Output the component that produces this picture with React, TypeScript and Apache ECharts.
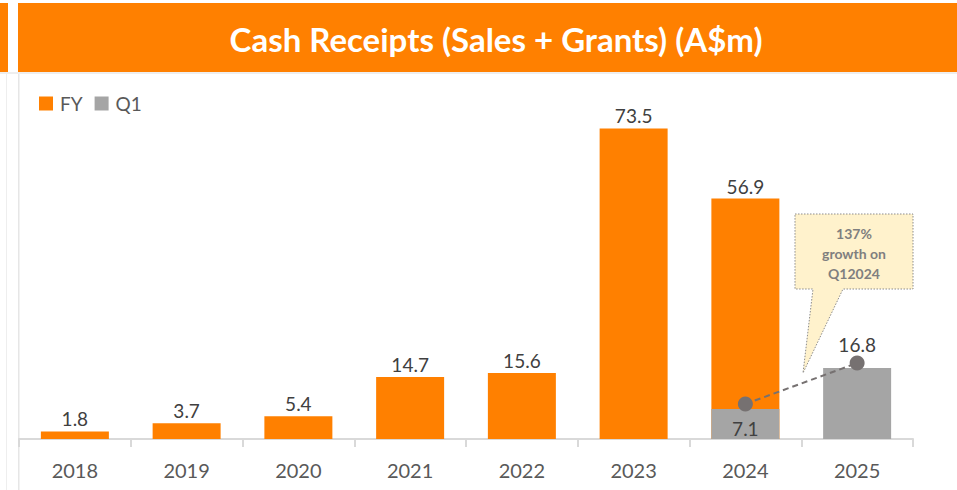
import React, { useEffect, useRef } from "react";
import * as echarts from "echarts";

const categories = ["2018", "2019", "2020", "2021", "2022", "2023", "2024", "2025"];
const fyValues: (number | null)[] = [1.8, 3.7, 5.4, 14.7, 15.6, 73.5, 56.9, null];
const q1Values: (number | null)[] = [null, null, null, null, null, null, 7.1, 16.8];
const titleText = "Cash Receipts (Sales + Grants) (A$m)";
const calloutLines = ["137%", "growth on", "Q12024"];

const ORANGE = "#FF8000";
const GREY = "#A5A5A5";
const TEXT = "#404040";
const FONT = "Lato, 'Open Sans', sans-serif";

export default function App() {
  const ref = useRef<HTMLDivElement>(null);
  useEffect(() => {
    if (!ref.current) return;
    const chart = echarts.init(ref.current, null, { renderer: "svg" });
    chart.setOption({
      animation: false,
      textStyle: { fontFamily: FONT },
      legend: {
        left: 34,
        top: 89,
        itemWidth: 14,
        itemHeight: 14,
        itemGap: 12,
        icon: "rect",
        data: ["FY", "Q1"],
        textStyle: { fontSize: 19, color: "#595959", fontFamily: FONT, padding: [0, 0, 0, 2] },
      },
      grid: [
        { left: 19, right: 44, top: 101, bottom: 51 },
        { left: 19, right: 44, top: 96, bottom: 56 },
      ],
      xAxis: [
        {
          type: "category",
          data: categories,
          gridIndex: 0,
          axisLine: { lineStyle: { color: "#D9D9D9", width: 2 } },
          axisTick: { show: true, length: 8, lineStyle: { color: "#D9D9D9", width: 2 } },
          axisLabel: { fontSize: 20, color: "#595959", margin: 21, fontFamily: FONT },
        },
        { type: "category", data: categories, gridIndex: 1, show: false },
      ],
      yAxis: [
        { type: "value", min: 0, max: 80, show: false, gridIndex: 0, splitLine: { show: false } },
        { type: "value", min: 0, max: 80, show: false, gridIndex: 1, splitLine: { show: false } },
      ],
      series: [
        {
          name: "FY",
          type: "bar",
          data: fyValues,
          barWidth: 68,
          barGap: "-100%",
          itemStyle: { color: ORANGE },
          label: {
            show: true,
            position: "top",
            distance: 3,
            fontSize: 19,
            color: TEXT,
            fontFamily: FONT,
          },
        },
        {
          name: "Q1",
          type: "bar",
          data: q1Values.map((v, i) =>
            v == null
              ? null
              : {
                  value: v,
                  label:
                    fyValues[i] != null
                      ? { position: "insideBottom", distance: 1 }
                      : { position: "top", distance: 14 },
                }
          ),
          barWidth: 68,
          barGap: "-100%",
          itemStyle: { color: GREY },
          label: {
            show: true,
            fontSize: 19,
            color: TEXT,
            fontFamily: FONT,
          },
        },
        {
          name: "growth",
          type: "line",
          xAxisIndex: 1,
          yAxisIndex: 1,
          data: q1Values,
          symbol: "circle",
          symbolSize: 15,
          itemStyle: { color: "#767171" },
          lineStyle: { color: "#767171", width: 2, type: [6, 4] },
          label: { show: false },
          z: 5,
        },
      ],
      graphic: [
        { type: "rect", shape: { x: 0, y: 3, width: 8, height: 69 }, style: { fill: ORANGE } },
        { type: "rect", shape: { x: 18, y: 3, width: 939, height: 69 }, style: { fill: ORANGE } },
        { type: "rect", shape: { x: 0, y: 72, width: 957, height: 2 }, style: { fill: "#EEEEEE" } },
        { type: "rect", shape: { x: 6, y: 74, width: 1, height: 416 }, style: { fill: "#EEEEEE" } },
        { type: "rect", shape: { x: 18, y: 74, width: 1.5, height: 416 }, style: { fill: "#E6E6E6" } },
        {
          type: "text",
          x: 496,
          y: 39,
          style: {
            text: titleText,
            fill: "#FFFFFF",
            font: `bold 33px ${FONT}`,
            align: "center",
            verticalAlign: "middle",
          },
        },
        {
          type: "polygon",
          shape: {
            points: [
              [795, 214],
              [913, 214],
              [913, 289],
              [843, 289],
              [803, 373],
              [813, 289],
              [795, 289],
            ],
          },
          style: { fill: "#FFF2CC", stroke: "#8C8C8C", lineWidth: 1, lineDash: [1.5, 1.5] },
          z: 10,
        },
        ...calloutLines.map((t, i) => ({
          type: "text",
          x: 854,
          y: 233 + i * 20,
          z: 11,
          style: {
            text: t,
            fill: "#7F7F7F",
            font: `bold 14px ${FONT}`,
            align: "center",
            verticalAlign: "middle",
          },
        })),
      ],
    });
    return () => chart.dispose();
  }, []);
  return <div ref={ref} style={{ width: 957, height: 490, position: "absolute", left: 0, top: 0 }} />;
}
